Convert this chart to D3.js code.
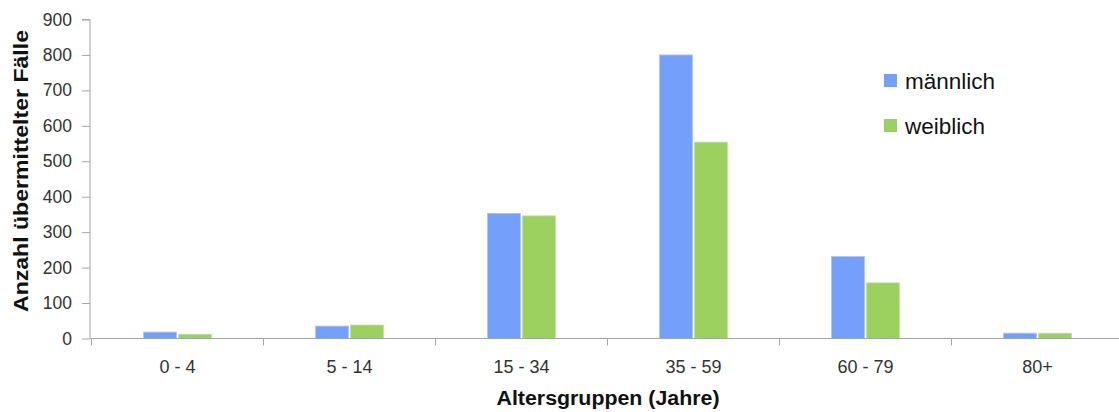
<!DOCTYPE html>
<html><head><meta charset="utf-8">
<script src="https://cdn.jsdelivr.net/npm/d3@7"></script>
<style>
html,body{margin:0;padding:0;background:#fff;}
svg{display:block;font-family:"Liberation Sans",Arial,sans-serif;}
</style></head>
<body><svg id="c" width="1119" height="412"></svg>
<script>
const categories = ["0 - 4","5 - 14","15 - 34","35 - 59","60 - 79","80+"];
const series = ["männlich","weiblich"];
const maleValues = [18, 35, 353, 800, 231, 15];
const femaleValues = [12, 38, 346, 554, 157, 15];
const yTicks = [0,100,200,300,400,500,600,700,800,900];
const colors = ["#74a0fc","#9cd160"];

(function(){
const svg = d3.select("#c");
const W = 1119, H = 412;
const mLeft = 90, mBottom = 338.5, mTop = 19.5;

const x = d3.scaleBand().domain(categories).range([91.5, 1123.5]).paddingInner(0).paddingOuter(0);
const x1 = d3.scaleBand().domain(series).range([0, x.bandwidth()]).paddingInner(0.057).paddingOuter(1.486);
const y = d3.scaleLinear().domain([0, 900]).range([mBottom, mTop]);

const data = categories.map((c,i)=>({cat:c, vals:[maleValues[i], femaleValues[i]]}));

const g = svg.append("g");
data.forEach(d=>{
  d.vals.forEach((v,j)=>{
    g.append("rect")
      .attr("x", x(d.cat)+x1(series[j]))
      .attr("y", y(v))
      .attr("width", x1.bandwidth())
      .attr("height", mBottom - y(v))
      .attr("fill", colors[j])
      .attr("stroke", j===0 ? "#a9c4fd" : "#c0e49a")
      .attr("stroke-width", 0.8);
  });
});

const yAxis = d3.axisLeft(y).tickValues(yTicks).tickSize(8).tickPadding(10).tickFormat(d3.format("d"));
const ya = svg.append("g").attr("transform", `translate(${mLeft},0)`).call(yAxis);
ya.select(".domain").attr("stroke","#a6a6a6").attr("d", `M-8,${mTop}H0V${mBottom}`);
ya.selectAll(".tick line").attr("stroke","#a6a6a6");
ya.selectAll(".tick text").attr("font-size", 17.5).attr("fill","#333").attr("font-family","Liberation Sans, Arial, sans-serif");

const xa = svg.append("g").attr("transform", `translate(0,${mBottom})`);
xa.append("line").attr("x1", mLeft).attr("x2", W).attr("y1",0).attr("y2",0).attr("stroke","#a6a6a6");
const edges = categories.map(c=>x(c)).concat([x(categories[categories.length-1])+x.bandwidth()]);
xa.selectAll("line.t").data(edges).join("line").attr("class","t")
  .attr("x1",d=>d).attr("x2",d=>d).attr("y1",0).attr("y2",7).attr("stroke","#a6a6a6");
xa.selectAll("text").data(categories).join("text")
  .attr("x", d=>x(d)+x.bandwidth()/2).attr("y", 34)
  .attr("text-anchor","middle").attr("font-size",18).attr("fill","#333").text(d=>d);

svg.append("text").attr("x", 608).attr("y", 405).attr("text-anchor","middle")
  .attr("font-size",20).attr("font-weight","bold").attr("fill","#111")
  .attr("textLength",223).attr("lengthAdjust","spacingAndGlyphs").text("Altersgruppen (Jahre)");
svg.append("text").attr("transform","translate(28,171) rotate(-90)").attr("text-anchor","middle")
  .attr("font-size",20).attr("font-weight","bold").attr("fill","#111")
  .attr("textLength",282).attr("lengthAdjust","spacingAndGlyphs").text("Anzahl übermittelter Fälle");

const leg = svg.append("g");
series.forEach((s,j)=>{
  const yy = 74 + j*45;
  leg.append("rect").attr("x",884).attr("y",yy).attr("width",13).attr("height",13).attr("fill",colors[j]);
  leg.append("text").attr("x",905).attr("y",yy+15).attr("font-size",22.5).attr("fill","#111").text(s);
});
})();
</script></body></html>
